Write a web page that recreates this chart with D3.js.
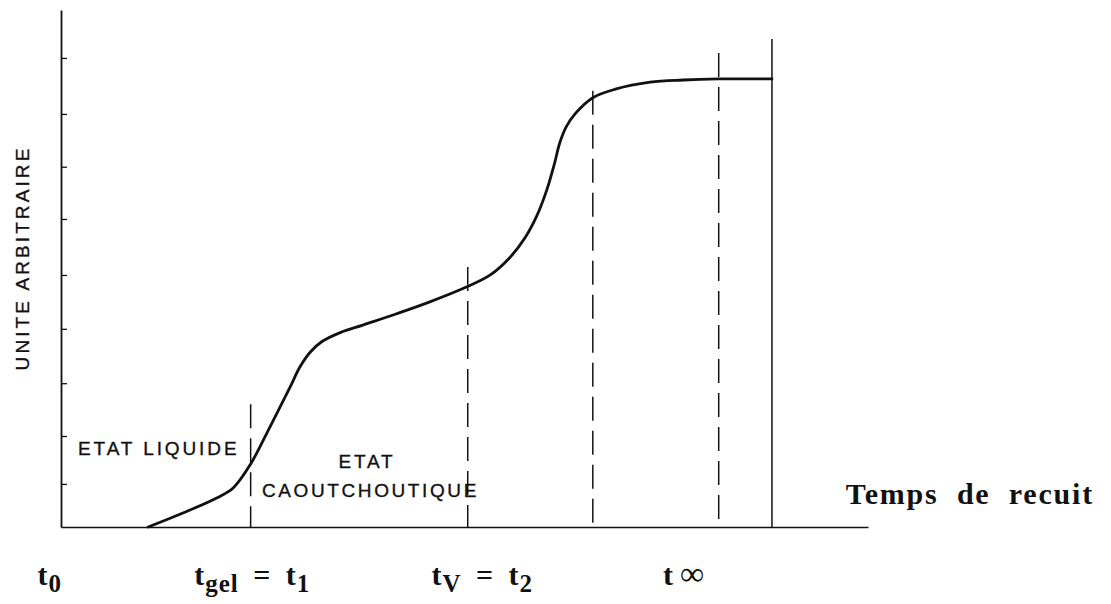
<!DOCTYPE html>
<html>
<head>
<meta charset="utf-8">
<script src="https://cdn.jsdelivr.net/npm/d3@7"></script>
<style>
  html, body { margin: 0; padding: 0; background: #fff; }
  svg { display: block; }
</style>
</head>
<body>
<svg id="chart" width="1111" height="604"></svg>
<script>
// Annealing curve: property (arbitrary unit) versus annealing time
const curveTime  = [10.8, 15.1, 19.3, 21.3, 23.5, 25.9, 28.4, 29.6, 30.9, 32.3, 34.6, 37.4, 41.6, 45.7, 50.3, 53.2, 55.6, 57.5, 59.0, 60.2, 61.1, 61.8, 62.6, 63.7, 65.9, 68.7, 73.0, 77.1, 81.5, 88.1];
const curveValue = [0.00, 0.26, 0.54, 0.72, 1.17, 1.86, 2.60, 2.97, 3.25, 3.44, 3.61, 3.75, 3.96, 4.18, 4.46, 4.68, 5.00, 5.37, 5.79, 6.26, 6.72, 7.13, 7.43, 7.67, 7.97, 8.13, 8.26, 8.30, 8.32, 8.32];

// Tick marks on the value axis (no labels: arbitrary unit)
const yTicks = [0.8, 1.69, 2.67, 3.68, 4.68, 5.72, 6.69, 7.67, 8.71];

// Vertical markers: t1 (gel), t2 (vitrification), t3, t∞, end of annealing
const markerTime = [23.5, 50.4, 65.9, 81.5, 88.1];
const markerTop  = [2.28, 4.83, 8.1, 8.8, 9.06];

// Time labels under the axis
const timeLabelMain = ["t", "t", "t", "t"];
const timeLabelSub  = ["0", "gel", "V", ""];
const timeLabelRest = ["", " = t", " = t", "∞"];
const timeLabelRestSub = ["", "1", "2", ""];
const timeLabelAt   = [-1.4, 23.7, 52.2, 77.2];

const svg = d3.select("#chart");
const x = d3.scaleLinear().domain([0, 100]).range([61, 868]);
const y = d3.scaleLinear().domain([0, 9.6]).range([527, 10]);

const ink = "#111";

// Value axis with inward ticks
const yAxis = svg.append("g")
  .attr("transform", `translate(${x(0)},0)`)
  .call(d3.axisRight(y).tickValues(yTicks).tickSize(6).tickSizeOuter(0).tickFormat(""));
yAxis.select(".domain").attr("stroke", ink).attr("stroke-width", 1.8);
yAxis.selectAll(".tick line").attr("stroke", ink).attr("stroke-width", 1.3);

// Time axis, no ticks
const xAxis = svg.append("g")
  .attr("transform", `translate(0,${y(0)})`)
  .call(d3.axisBottom(x).tickValues([]).tickSizeOuter(0));
xAxis.select(".domain").attr("stroke", ink).attr("stroke-width", 1.6);

// Vertical markers
svg.append("g").selectAll("line")
  .data(markerTime)
  .join("line")
  .attr("x1", d => x(d)).attr("x2", d => x(d))
  .attr("y1", (d, i) => y(markerTop[i]))
  .attr("y2", y(0))
  .attr("stroke", ink)
  .attr("stroke-width", 1.5)
  .attr("stroke-dasharray", (d, i) => i === markerTime.length - 1 ? null : "24,10");

// The curve
const pts = curveTime.map((t, i) => [t, curveValue[i]]);
svg.append("path")
  .datum(pts)
  .attr("fill", "none")
  .attr("stroke", ink)
  .attr("stroke-width", 2.8)
  .attr("stroke-linecap", "round")
  .attr("stroke-linejoin", "round")
  .attr("d", d3.line().x(d => x(d[0])).y(d => y(d[1])).curve(d3.curveCatmullRom.alpha(0.5)));

const sans = "'Liberation Sans', Arial, sans-serif";
const serif = "'Liberation Serif', 'Times New Roman', serif";

// Y-axis title
svg.append("text")
  .attr("transform", "translate(29,258) rotate(-90)")
  .attr("text-anchor", "middle")
  .style("font-family", sans)
  .style("font-size", "19px")
  .style("letter-spacing", "3.1px")
  .attr("fill", ink).attr("stroke", ink).attr("stroke-width", 0.35)
  .text("UNITE ARBITRAIRE");

// State annotations
function note(tx, ty, anchor, str, spacing) {
  svg.append("text")
    .attr("x", tx).attr("y", ty).attr("text-anchor", anchor)
    .style("font-family", sans).style("font-size", "19px").style("letter-spacing", spacing + "px")
    .attr("fill", ink).attr("stroke", ink).attr("stroke-width", 0.35)
    .text(str);
}
note(78, 455, "start", "ETAT LIQUIDE", 2.9);
note(367, 468, "middle", "ETAT", 2.8);
note(262, 497, "start", "CAOUTCHOUTIQUE", 2.6);

// Time axis title
svg.append("text")
  .attr("x", 1094).attr("y", 504).attr("text-anchor", "end")
  .style("font-family", serif).style("font-size", "30px").style("font-weight", "bold")
  .style("letter-spacing", "1.8px").style("word-spacing", "9px")
  .attr("fill", ink).text("Temps de recuit");

// Time labels with subscripts
const lab = svg.append("g")
  .style("font-family", serif).style("font-weight", "bold").attr("fill", ink);
timeLabelMain.forEach((m, i) => {
  const t = lab.append("text")
    .attr("x", x(timeLabelAt[i])).attr("y", 585)
    .attr("text-anchor", "middle")
    .style("font-size", "30px")
    .style("letter-spacing", "1px")
    .style("word-spacing", "6px");
  t.append("tspan").text(m);
  if (timeLabelSub[i]) {
    t.append("tspan").attr("dy", 7).style("font-size", "25px").text(timeLabelSub[i]);
  }
  if (timeLabelRest[i]) {
    const inf = timeLabelRest[i] === "∞";
    t.append("tspan").attr("dy", timeLabelSub[i] ? -7 : 0)
      .attr("dx", inf ? 6 : 0)
      .style("font-size", inf ? "34px" : "30px")
      .style("font-weight", inf ? "normal" : "bold")
      .text(timeLabelRest[i]);
  }
  if (timeLabelRestSub[i]) {
    t.append("tspan").attr("dy", 7).style("font-size", "25px").text(timeLabelRestSub[i]);
  }
});
</script>
</body>
</html>
